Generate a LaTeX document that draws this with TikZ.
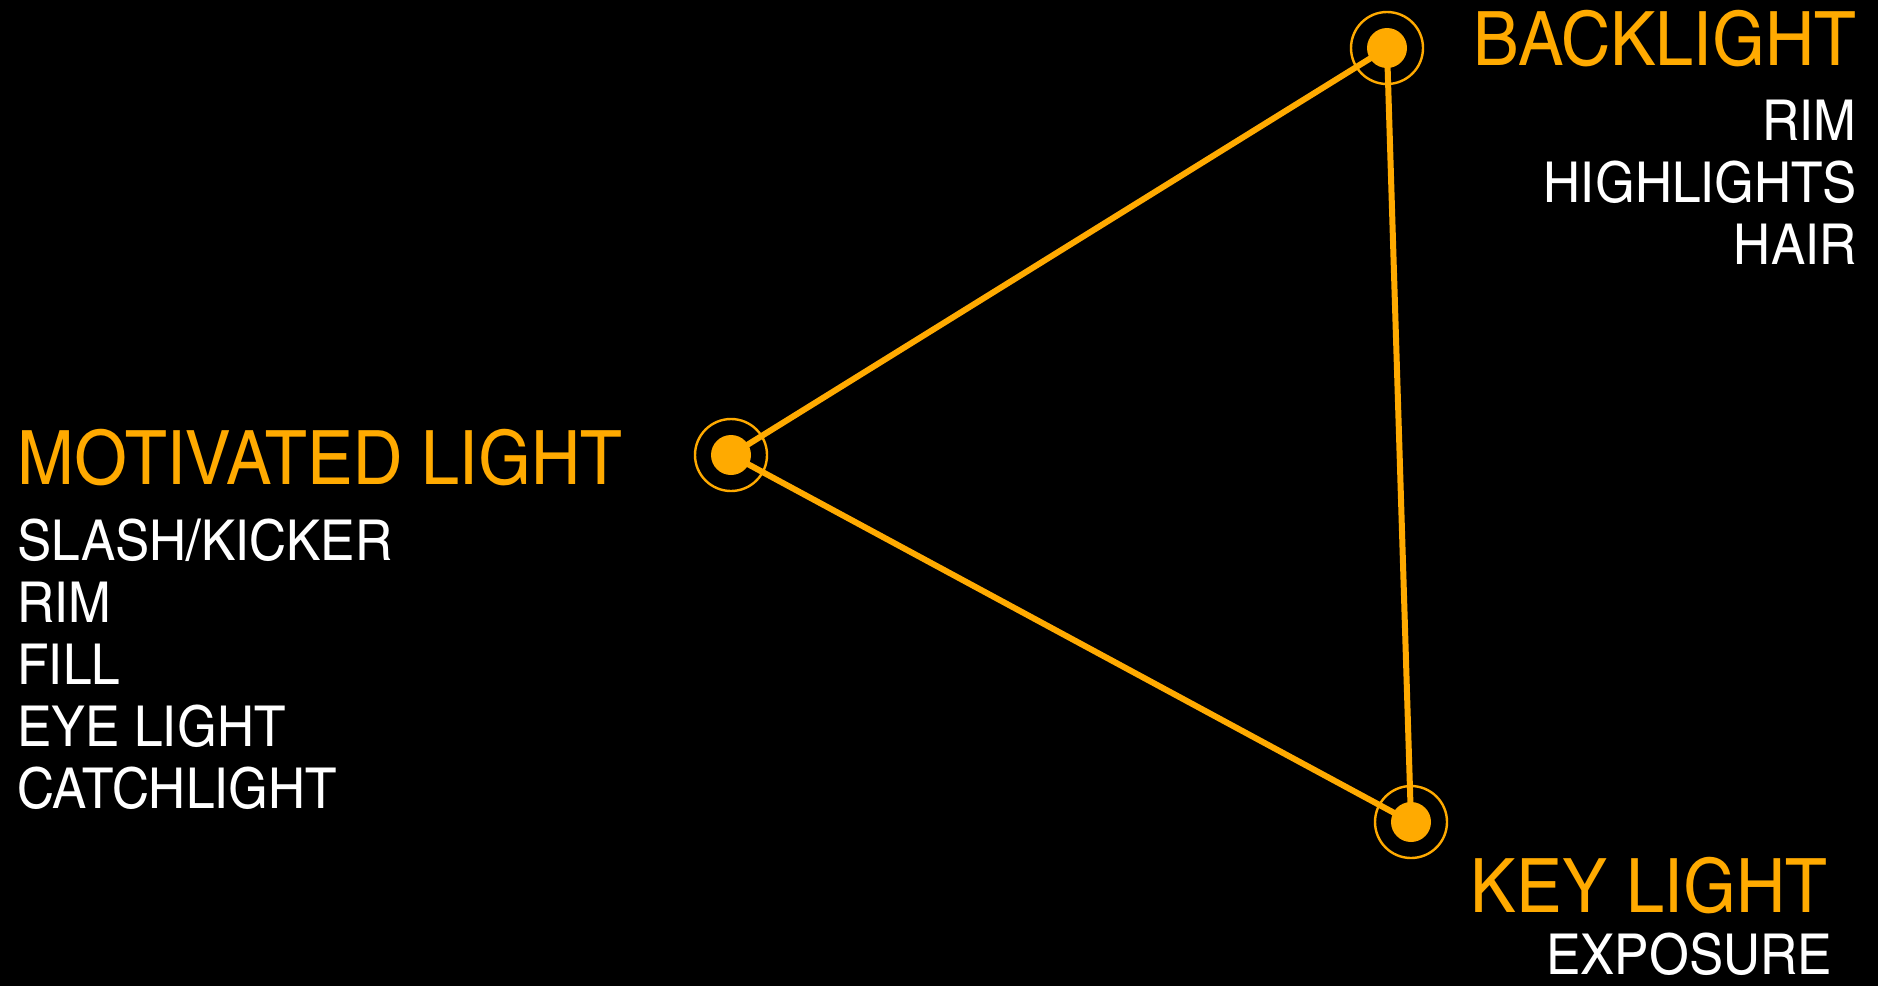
\documentclass[tikz,border=0pt]{standalone}
\usepackage{fontspec}
\setmainfont[FakeStretch=1.11]{TeX Gyre Heros Cn}
\usetikzlibrary{positioning}
\definecolor{amber}{RGB}{255,170,0}

\begin{document}
\begin{tikzpicture}[
  x=0.5pt, y=-0.5pt,
  dot/.style={circle, fill=amber, inner sep=0pt, minimum size=20pt},
  ring/.style={circle, draw=amber, line width=1.2pt, inner sep=0pt, minimum size=36pt},
  beam/.style={amber, line width=3pt},
  head/.style={text=amber, inner sep=0pt, font=\fontsize{37.5}{40}\selectfont},
  list/.style={text=white, inner sep=0pt, font=\fontsize{28.2}{31}\selectfont}
]
  \fill[black] (0,0) rectangle (1878,986);
  \useasboundingbox (0,0) rectangle (1878,986);

  % lights
  \node[dot] (back) at (1387,48) {};
  \node[dot] (motiv) at (731,455) {};
  \node[dot] (key) at (1411,822) {};
  \node[ring] (backring) at (back) {};
  \node[ring] (motivring) at (motiv) {};
  \node[ring] (keyring) at (key) {};

  \draw[beam] (motiv.center) -- (back.center);
  \draw[beam] (back.center) -- (key.center);
  \draw[beam] (key.center) -- (motiv.center);

  % labels
  \node[head, anchor=base east] (backlbl) at (1857,65) {BACKLIGHT};
  \node[list, anchor=north east, align=right] (backlist) at (1857,100) {RIM\\HIGHLIGHTS\\HAIR};
  \node[head, anchor=base west] (motivlbl) at (17,484) {MOTIVATED LIGHT};
  \node[list, anchor=north west, align=left] (motivlist) at (17,519) {SLASH/KICKER\\RIM\\FILL\\EYE LIGHT\\CATCHLIGHT};
  \node[head, anchor=base east] (keylbl) at (1828,912) {KEY LIGHT};
  \node[list, anchor=base east] (keylist) at (1832,974) {EXPOSURE};
\end{tikzpicture}
\end{document}
